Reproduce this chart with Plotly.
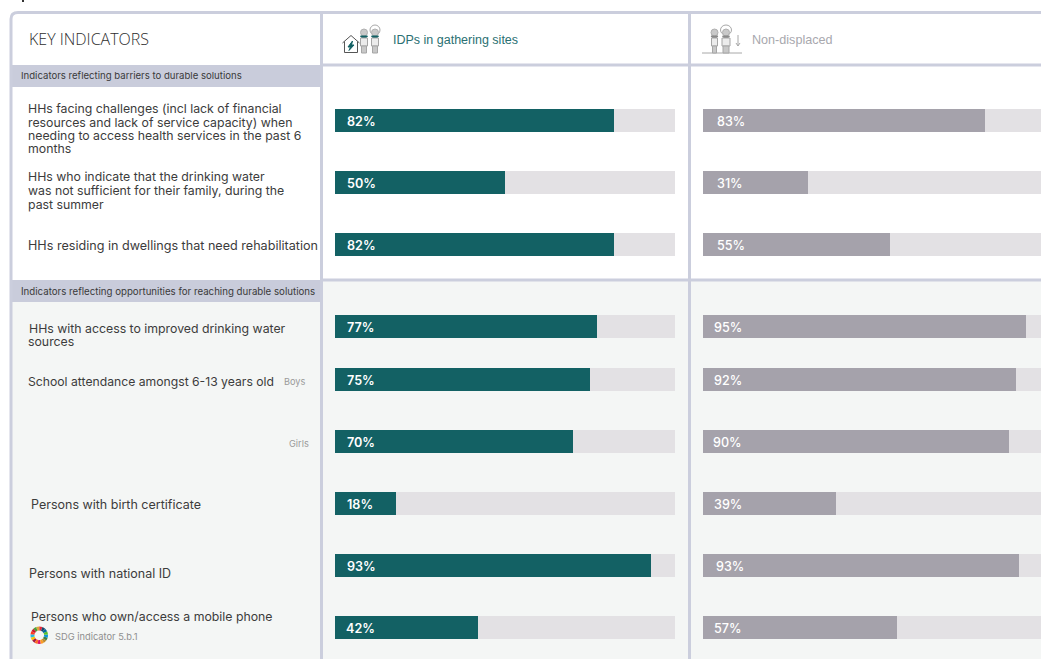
import plotly.graph_objects as go

W, H = 1041, 659

# Survey results, in percent of each population group
indicators = ["HHs facing challenges", "Drinking water not sufficient", "Dwellings need rehabilitation",
              "Improved drinking water", "School attendance, boys", "School attendance, girls",
              "Birth certificate", "National ID", "Mobile phone"]
idps_values = [82, 50, 82, 77, 75, 70, 18, 93, 42]
non_displaced_values = [83, 31, 55, 95, 92, 90, 39, 93, 57]
full_scale = [100] * 9

# Vertical centre of each table row, in page pixels
row_centres = [120.5, 182.5, 244.5, 326.5, 379.5, 441.5, 503.5, 565.5, 627.5]

# Left-column wording: (text, x, y, font size) for every printed line
label_lines = [
    ("HHs facing challenges (incl lack of financial", 27, 108.5, 12.3),
    ("resources and lack of service capacity) when", 27, 122, 12.3),
    ("needing to access health services in the past 6", 27, 135.5, 12.3),
    ("months", 27, 149, 12.3),
    ("HHs who indicate that the drinking water", 27, 177, 12.3),
    ("was not sufficient for their family, during the", 27, 190.5, 12.3),
    ("past summer", 27, 204, 12.3),
    ("HHs residing in dwellings that need rehabilitation", 27, 245.5, 12.6),
    ("HHs with access to improved drinking water", 28, 328.5, 12.3),
    ("sources", 27, 341.5, 12.3),
    ("School attendance amongst 6-13 years old", 27, 381.5, 12.2),
    ("Persons with birth certificate", 30, 504.5, 12.5),
    ("Persons with national ID", 28, 573.5, 12.5),
    ("Persons who own/access a mobile phone", 30, 616.5, 12.3),
]
section_titles = [("Indicators reflecting barriers to durable solutions", 76),
                  ("Indicators reflecting opportunities for reaching durable solutions", 291.5)]
sdg_colours = ["#E5243B", "#DDA63A", "#4C9F38", "#C5192D", "#FF3A21", "#26BDE2", "#FCC30B", "#A21942",
               "#FD6925", "#DD1367", "#FD9D24", "#BF8B2E", "#3F7E44", "#0A97D9", "#56C02B", "#00689D", "#19486A"]

TEAL = "#136164"
GREY_BAR = "#a5a2ab"
TRACK = "#e3e1e4"
RULE = "#cbcedd"
TEXT = "#3c3c3c"
LABEL_FONT = "Inter"
NONE = "rgba(0,0,0,0)"


def px(x):
    return x / W


def py(y):
    return 1 - y / H


def rect(x0, y0, x1, y1, fill, line=None, width=0, layer="below"):
    return dict(type="rect", xref="paper", yref="paper", x0=px(x0), x1=px(x1), y0=py(y0), y1=py(y1),
                fillcolor=fill, line=dict(color=line or fill, width=width), layer=layer)


def seg(x0, y0, x1, y1, colour, width=1):
    return dict(type="line", xref="paper", yref="paper", x0=px(x0), x1=px(x1), y0=py(y0), y1=py(y1),
                line=dict(color=colour, width=width), layer="below")


def blob(x0, y0, x1, y1, fill, line="#9a9a9a", width=1):
    return dict(type="circle", xref="paper", yref="paper", x0=px(x0), x1=px(x1), y0=py(y0), y1=py(y1),
                fillcolor=fill, line=dict(color=line, width=width), layer="above")


def poly(points, fill, line, width=1, closed=True):
    d = "M " + " L ".join(f"{px(x):.5f},{py(y):.5f}" for x, y in points) + (" Z" if closed else "")
    return dict(type="path", xref="paper", yref="paper", path=d, fillcolor=fill,
                line=dict(color=line, width=width), layer="above")


def person(cx, head_y, foot_y, accent, half_width=3.5, wrapped=False):
    """Small standing figure used in the column headers."""
    hw = half_width
    parts = []
    if wrapped:
        # Head wrap rising above the face
        parts.append(blob(cx - hw - 1.5, head_y - 4, cx + hw + 1.5, head_y + 6, "#ffffff", "#a8a8a8"))
    parts += [
        blob(cx - 3.5, head_y, cx + 3.5, head_y + 7, "#c9c9c9", "#b0b0b0"),
        poly([(cx - 3.5, head_y + 7), (cx + 3.5, head_y + 7), (cx, head_y + 11)], accent, accent),
        rect(cx - hw, head_y + 9, cx + hw, foot_y - 7, "#ececec", "#a6a6a6", 1, "above"),
        rect(cx - hw + 1, foot_y - 7, cx + hw - 1, foot_y, "#c8c8c8", "#a6a6a6", 1, "above"),
    ]
    return parts


shapes = [
    # White table body with the shaded lower section
    rect(11, 12, W, 280, "#ffffff"),
    rect(11, 280, W, H, "#f4f6f5"),
    rect(11, 65, 321, 87, "#c9ccdb"),
    rect(11, 280, 321, 302, "#c9ccdb"),
    # Outer frame with its rounded corner
    dict(type="path", xref="paper", yref="paper", line=dict(color=RULE, width=3), layer="below",
         path=f"M {px(11):.5f},{py(H):.5f} L {px(11):.5f},{py(19):.5f} "
              f"Q {px(11):.5f},{py(12.5):.5f} {px(18):.5f},{py(12.5):.5f} L {px(W):.5f},{py(12.5):.5f}"),
    # Column and section rules
    seg(321.5, 12, 321.5, H, RULE, 3),
    seg(689.5, 12, 689.5, H, RULE, 3),
    seg(321, 65, W, 65, RULE, 3),
    seg(321, 280, W, 280, RULE, 3),
    # Stray descender at the page top
    rect(22, 0, 24, 2, "#333333"),
    # House with a power bolt
    poly([(342.5, 43), (351, 35.5), (359.5, 43)], NONE, "#555555", 1, closed=False),
    poly([(344.5, 41.5), (344.5, 52.5), (357.5, 52.5), (357.5, 41.5)], NONE, "#555555", 1, closed=False),
    poly([(352.5, 41), (348, 47), (350.5, 47), (349, 50.5), (354, 45), (351.5, 45)], TEAL, TEAL),
    # Arrow and ground line beside the non-displaced figures
    seg(702, 53, 742, 53, "#a8a8a8", 1),
    seg(738, 35, 738, 46, "#a8a8a8", 1),
    poly([(736, 43), (738, 46), (740, 43)], NONE, "#a8a8a8", 1, closed=False),
]
shapes += person(364, 29, 53, TEAL)
shapes += person(375, 29, 53, TEAL, wrapped=True)
shapes += person(714.5, 29, 53, "#8a8a8a", half_width=3)
shapes += person(726, 29, 53, "#8a8a8a", half_width=4, wrapped=True)


def note(text, x, y, size, colour, family=LABEL_FONT, weight=400):
    return dict(text=text, x=px(x), y=py(y), xref="paper", yref="paper", showarrow=False,
                xanchor="left", yanchor="middle", align="left", borderpad=0,
                font=dict(family=family, size=size, color=colour, weight=weight))


annotations = [
    note("KEY INDICATORS", 28, 39, 16, "#2e2e2e", "Open Sans", 300),
    note("IDPs in gathering sites", 392, 39.5, 12.5, "#2a7072", "Liberation Sans"),
    note("Non-displaced", 751, 39.5, 12.6, "#a8a8ae", "Liberation Sans"),
    note("Boys", 283, 381.5, 9.2, "#9a9a9a"),
    note("Girls", 288, 443.5, 9.2, "#9a9a9a"),
    note("SDG indicator 5.b.1", 54, 636, 9.3, "#8f8f8f"),
]
annotations += [note(t, x, y, s, TEXT) for t, x, y, s in label_lines]
annotations += [note(t, 20, y, s, "#3a3a3a") for (t, y), s in zip(section_titles, [9.6, 9.7])]

# Percent labels printed inside the bars
idp_label_x = [346, 346, 346, 346, 346, 346, 346, 346, 345]
nd_label_x = [716, 716, 716, 713, 713, 712, 713, 715, 713]
for v, x, y in zip(idps_values, idp_label_x, row_centres):
    annotations.append(note(f"{v}%", x, y + 0.5, 12.6, "#ffffff", LABEL_FONT, 600))
for v, x, y in zip(non_displaced_values, nd_label_x, row_centres):
    annotations.append(note(f"{v}%", x, y + 0.5, 12.6, "#ffffff", LABEL_FONT, 500))


def bars(values, colour, xaxis):
    return go.Bar(x=values, y=row_centres, orientation="h", width=23, marker=dict(color=colour, line_width=0),
                  xaxis=xaxis, yaxis="y", customdata=indicators, showlegend=False,
                  hovertemplate="%{customdata}: %{x}%<extra></extra>")


fig = go.Figure()
fig.add_trace(bars(full_scale, TRACK, "x"))
fig.add_trace(bars(idps_values, TEAL, "x"))
fig.add_trace(bars(full_scale, TRACK, "x2"))
fig.add_trace(bars(non_displaced_values, GREY_BAR, "x2"))

# SDG colour wheel beside the mobile phone indicator
fig.add_trace(go.Pie(values=[1] * len(sdg_colours), marker=dict(colors=sdg_colours, line_width=0), hole=0.55,
                     sort=False, textinfo="none", showlegend=False, hoverinfo="skip",
                     domain=dict(x=[px(30.5), px(48)], y=[py(644), py(626.5)])))

fig.update_layout(
    width=W, height=H, margin=dict(l=0, r=0, t=0, b=0), autosize=False,
    paper_bgcolor="#ffffff", plot_bgcolor="rgba(0,0,0,0)",
    barmode="overlay", bargap=0,
    xaxis=dict(domain=[px(335), px(675)], range=[0, 100], visible=False, fixedrange=True),
    xaxis2=dict(domain=[px(703), 1], range=[0, (W - 703) / 3.4], visible=False, fixedrange=True),
    yaxis=dict(domain=[0, 1], range=[H, 0], visible=False, fixedrange=True),
    shapes=shapes, annotations=annotations,
)

fig.write_html("out.html", config=dict(displayModeBar=False))
